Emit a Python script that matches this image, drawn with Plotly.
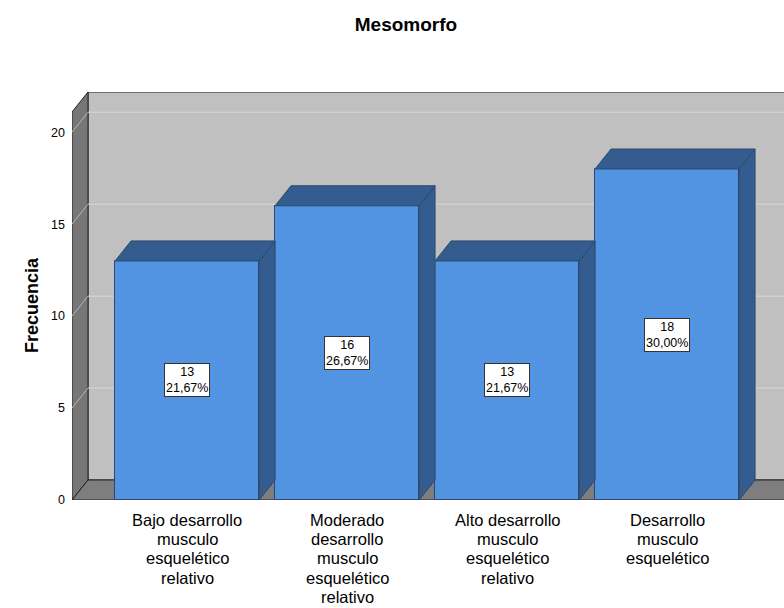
import plotly.graph_objects as go

categories = ["Bajo desarrollo<br>musculo<br>esquelético<br>relativo",
              "Moderado<br>desarrollo<br>musculo<br>esquelético<br>relativo",
              "Alto desarrollo<br>musculo<br>esquelético<br>relativo",
              "Desarrollo<br>musculo<br>esquelético"]
counts = [13, 16, 13, 18]
percents = ["21,67%", "26,67%", "21,67%", "30,00%"]
y_ticks = [0, 5, 10, 15, 20]

# geometry (in axis units)
X0, X1 = -0.719, 3.731
DX, DY = 0.1, 1.087
WALL_TOP = 21.1
YMAX = WALL_TOP + DY
BW = 0.9

FRONT = "#5294E2"
DARK = "#345C8E"
EDGE = "#2A4A70"
FONT = "Liberation Sans, Arial"

fig = go.Figure()
xs = list(range(len(counts)))

# side and top faces
for i, v in zip(xs, counts):
    l, r = i - BW / 2, i + BW / 2
    fig.add_trace(go.Scatter(x=[r, r, r + DX, r + DX, r], y=[0, v, v + DY, DY, 0],
                             fill="toself", fillcolor=DARK, mode="lines",
                             line=dict(color=EDGE, width=1), hoverinfo="skip", showlegend=False))
    fig.add_trace(go.Scatter(x=[l, l + DX, r + DX, r, l], y=[v, v + DY, v + DY, v, v],
                             fill="toself", fillcolor=DARK, mode="lines",
                             line=dict(color=EDGE, width=1), hoverinfo="skip", showlegend=False))

fig.add_trace(go.Bar(x=xs, y=counts, width=BW, marker=dict(color=FRONT, line=dict(color=EDGE, width=1)),
                     hoverinfo="skip", showlegend=False))

XR = X1 + 0.5
shapes = []
# back wall
shapes.append(dict(type="rect", xref="x", yref="y", x0=X0 + DX, x1=XR, y0=DY, y1=YMAX,
                   fillcolor="#C0C0C0", line=dict(color="#222222", width=1), layer="below"))
# left wall
shapes.append(dict(type="path", xref="x", yref="y",
                   path=f"M {X0},0 L {X0},{WALL_TOP} L {X0+DX},{YMAX} L {X0+DX},{DY} Z",
                   fillcolor="#777777", line=dict(color="#222222", width=1), layer="below"))
# floor
shapes.append(dict(type="path", xref="x", yref="y",
                   path=f"M {X0},0 L {X0+DX},{DY} L {XR},{DY} L {XR},0 Z",
                   fillcolor="#7E7E7E", line=dict(color="#222222", width=1), layer="below"))
# gridlines
for t in y_ticks[1:]:
    shapes.append(dict(type="line", xref="x", yref="y", x0=X0 + DX, x1=XR, y0=t + DY, y1=t + DY,
                       line=dict(color="#D6D6D6", width=1), layer="below"))
    shapes.append(dict(type="line", xref="x", yref="y", x0=X0, x1=X0 + DX, y0=t, y1=t + DY,
                       line=dict(color="#B8B8B8", width=1), layer="below"))
fig.update_layout(shapes=shapes)

# data labels
for i, v, c, p in zip(xs, counts, counts, percents):
    fig.add_annotation(x=i, y=v / 2, text=f"{c}<br>{p}", showarrow=False,
                       font=dict(family=FONT, size=12.5, color="black"),
                       bgcolor="white", bordercolor="#333333", borderwidth=1, borderpad=1)

# category labels (tight line spacing, one annotation per line)
for i, cat in zip(xs, categories):
    for k, line in enumerate(cat.split("<br>")):
        fig.add_annotation(x=i, xref="x", y=0, yref="paper", text=line, showarrow=False,
                           yanchor="top", yshift=-10 - 19.2 * k, borderpad=0,
                           font=dict(family=FONT, size=16.5, color="black"))

fig.add_annotation(xref="paper", yref="paper", x=-0.073, y=0.478, text="<b>Frecuencia</b>",
                   textangle=-90, showarrow=False,
                   font=dict(family=FONT, size=18, color="black"))

fig.update_layout(
    width=784, height=608,
    margin=dict(l=72, r=0, t=92, b=108),
    paper_bgcolor="white", plot_bgcolor="white",
    title=dict(text="<b>Mesomorfo</b>", x=406 / 784, xref="container", xanchor="center",
               y=1 - 24 / 608, yref="container", yanchor="middle",
               font=dict(family=FONT, size=19, color="black")),
    font=dict(family=FONT, color="black"),
    bargap=0,
)
fig.update_xaxes(range=[X0, X1], tickvals=xs, showticklabels=False, showgrid=False, zeroline=False,
                 showline=False, ticks="", fixedrange=True)
fig.update_yaxes(range=[0, YMAX], tickvals=y_ticks, showgrid=False, zeroline=False, showline=False,
                 ticks="", ticklabelstandoff=6, tickfont=dict(size=12.5, color="black"), fixedrange=True)

fig.write_html("out.html")
